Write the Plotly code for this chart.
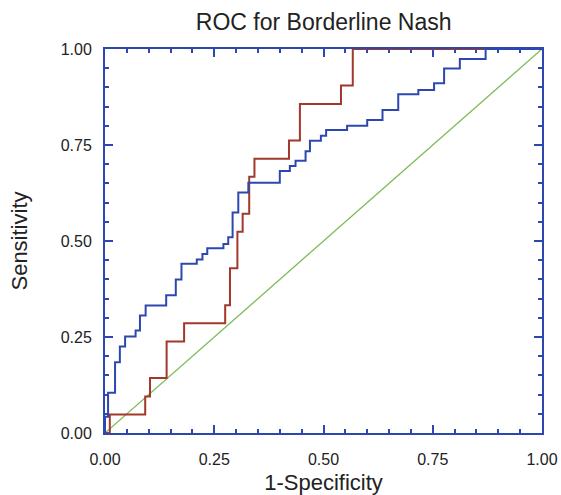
import plotly.graph_objects as go

# Data (step corners, drawn with hv steps)
blue_fpr = [0.0, 0.0, 0.007, 0.023, 0.034, 0.046, 0.070, 0.080, 0.093, 0.140, 0.162, 0.175,
            0.210, 0.223, 0.234, 0.271, 0.282, 0.292, 0.305, 0.328, 0.400, 0.423, 0.436,
            0.459, 0.469, 0.494, 0.506, 0.554, 0.600, 0.635, 0.671, 0.717, 0.753, 0.776,
            0.812, 0.871, 1.0]
blue_tpr = [0.0, 0.042, 0.105, 0.184, 0.225, 0.251, 0.267, 0.306, 0.332, 0.359, 0.400, 0.441,
            0.452, 0.466, 0.481, 0.492, 0.510, 0.574, 0.626, 0.652, 0.682, 0.695, 0.709,
            0.734, 0.761, 0.774, 0.789, 0.800, 0.815, 0.841, 0.882, 0.893, 0.911, 0.949,
            0.974, 1.0, 1.0]

red_fpr = [0.0, 0.011, 0.092, 0.103, 0.141, 0.181, 0.275, 0.286, 0.303, 0.315, 0.330,
           0.342, 0.421, 0.446, 0.540, 0.567, 1.0]
red_tpr = [0.0, 0.048, 0.095, 0.143, 0.238, 0.286, 0.333, 0.429, 0.524, 0.571, 0.667,
           0.714, 0.762, 0.857, 0.905, 1.0, 1.0]

diag = [0.0, 1.0]

tick_vals = [0.0, 0.25, 0.5, 0.75, 1.0]
tick_text = ["0.00", "0.25", "0.50", "0.75", "1.00"]

BLUE = "#2c48b0"
RED = "#a0392b"
GREEN = "#7dba58"
FONT = "Liberation Sans, Arial, sans-serif"

fig = go.Figure()
fig.add_trace(go.Scatter(x=diag, y=diag, mode="lines",
                         line=dict(color=GREEN, width=1.3), showlegend=False))
fig.add_trace(go.Scatter(x=red_fpr, y=red_tpr, mode="lines", line_shape="hv",
                         line=dict(color=RED, width=2), showlegend=False))
fig.add_trace(go.Scatter(x=blue_fpr, y=blue_tpr, mode="lines", line_shape="hv",
                         line=dict(color=BLUE, width=2), showlegend=False))

axis_common = dict(
    range=[0, 1], showgrid=False, zeroline=False, automargin=False,
    showline=True, linecolor=BLUE, linewidth=2, mirror="allticks",
    ticks="inside", ticklen=8, tickwidth=2, tickcolor=BLUE,
    tickvals=tick_vals, ticktext=tick_text,
    tickfont=dict(family=FONT, size=16, color="#222"),
    minor=dict(dtick=0.05, tick0=0, ticks="inside", ticklen=4, tickwidth=2, tickcolor=BLUE),
    layer="below traces",
)

fig.update_layout(
    width=561, height=495,
    margin=dict(l=105, r=19, t=49, b=62),
    paper_bgcolor="white", plot_bgcolor="white",
    title=dict(text="ROC for Borderline Nash", x=0.577, xanchor="center",
               y=0.956, yanchor="middle",
               font=dict(family=FONT, size=23, color="#222")),
    xaxis=dict(axis_common, ticklabelstandoff=11,
               title=dict(text="1-Specificity", standoff=9,
                          font=dict(family=FONT, size=22, color="#222"))),
    yaxis=dict(axis_common, ticklabelstandoff=8,
               title=dict(text="Sensitivity", standoff=27,
                          font=dict(family=FONT, size=22, color="#222"))),
)

fig.write_html(
    "out.html",
    config={"displayModeBar": False},
    post_script="document.body.style.margin='0';document.body.style.overflow='hidden';",
)
